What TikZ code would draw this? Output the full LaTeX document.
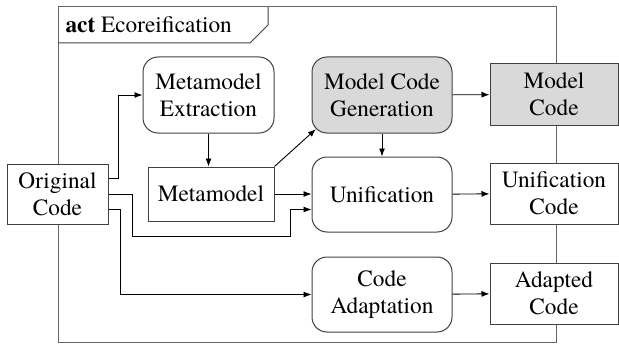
\documentclass[tikz,border=0pt]{standalone}
\usepackage{fontspec}
\setmainfont{texgyretermes}[Extension=.otf, UprightFont=*-regular,
  BoldFont=*-bold, ItalicFont=*-italic, BoldItalicFont=*-bolditalic]
\usetikzlibrary{arrows.meta}

\begin{document}
\begin{tikzpicture}[x=1pt, y=-1pt,
  txt/.style={font=\fontsize{23.3}{27}\selectfont, align=center},
  action/.style={txt, draw=black!75, line width=1pt, rounded corners=15pt,
    minimum width=140pt, minimum height=76pt},
  artifact/.style={txt, draw=black!75, fill=white, line width=1pt,
    minimum width=128pt, minimum height=61pt},
  flow/.style={-{Latex[length=8pt, width=6pt]}, line width=0.9pt}]
\useasboundingbox (0,0) rectangle (619,345);

% activity frame with its name tab
\draw[black!60, line width=1pt] (58,7) rectangle (556,342);
\draw[black!75, line width=1pt] (58,43) -- (250,43) -- (268,25) -- (268,7);
\node[txt, anchor=west] (title) at (62,25) {\textbf{act} Ecoreification};

% artifacts
\node[artifact, minimum width=101pt, minimum height=60pt] (orig) at (57.5,194) {Original\\Code};
\node[artifact, minimum width=126pt, minimum height=54pt] (meta) at (211,194) {Metamodel};
\node[artifact, fill=gray!30] (mcode) at (554,94.5) {Model\\Code};
\node[artifact] (ucode) at (554,193.5) {Unification\\Code};
\node[artifact] (acode) at (554,293.5) {Adapted\\Code};

% actions
\node[action, minimum width=131pt] (extract) at (208.5,95) {Metamodel\\Extraction};
\node[action, fill=gray!30] (gen) at (382,95) {Model Code\\Generation};
\node[action, minimum height=75pt] (unify) at (382,194.5) {Unification};
\node[action, minimum height=75pt] (adapt) at (382,294.5) {Code\\Adaptation};

% flows
\draw[flow] ([yshift=16pt]orig.east) -- ++(10,0) |- (extract.west);
\draw[flow] (orig.east) -- ++(24,0) |- (290,236) |- ([yshift=-15pt]unify.west);
\draw[flow] ([yshift=-15pt]orig.east) -- ++(12,0) |- (adapt.west);
\draw[flow] (extract.south) -- (extract.south |- meta.north);
\draw[flow] (meta.north east) -- ([shift={(4.4pt,4.4pt)}]gen.south west);
\draw[flow] (meta.east) -- (meta.east -| unify.west);
\draw[flow] (gen) -- (unify);
\draw[flow] (gen) -- (mcode);
\draw[flow] (unify) -- (ucode);
\draw[flow] (adapt) -- (acode);
\end{tikzpicture}
\end{document}
